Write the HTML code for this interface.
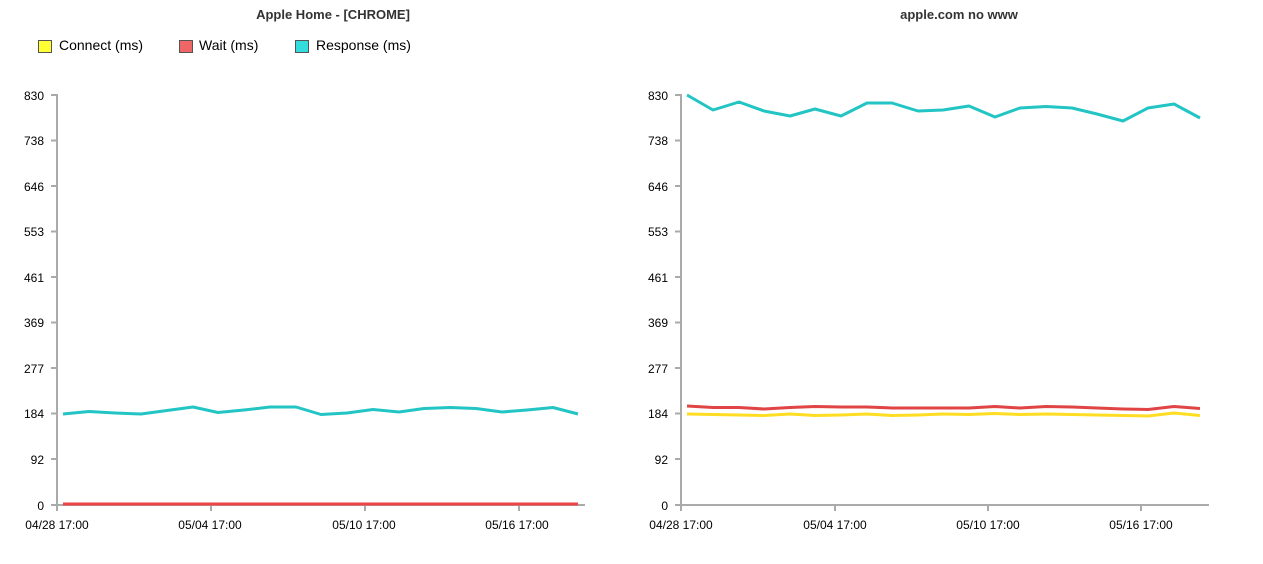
<!DOCTYPE html>
<html><head><style>
body{margin:0;background:#fff;font-family:"Liberation Sans",Arial,sans-serif;}
svg text{font-family:"Liberation Sans",Arial,sans-serif;}
</style></head><body>
<svg width="1263" height="559" xmlns="http://www.w3.org/2000/svg">
<g font-size="12" fill="#000">
<text x="333" y="19" text-anchor="middle" font-weight="bold" font-size="13" fill="#333">Apple Home - [CHROME]</text>
<text x="959" y="19" text-anchor="middle" font-weight="bold" font-size="13" fill="#333">apple.com no www</text>
<rect x="38.5" y="40.5" width="13" height="12" fill="#ffff33" stroke="#555"/>
<text x="59" y="50" font-size="14">Connect (ms)</text>
<rect x="179.5" y="40.5" width="13" height="12" fill="#ee6666" stroke="#555"/>
<text x="199" y="50" font-size="14">Wait (ms)</text>
<rect x="295.5" y="40.5" width="13" height="12" fill="#33dddd" stroke="#555"/>
<text x="316" y="50" font-size="14">Response (ms)</text>
</g>
<g font-size="12" text-anchor="end">
<text x="44" y="100">830</text><text x="44" y="145">738</text><text x="44" y="191">646</text><text x="44" y="236">553</text><text x="44" y="282">461</text><text x="44" y="327">369</text><text x="44" y="373">277</text><text x="44" y="418">184</text><text x="44" y="464">92</text><text x="44" y="510">0</text>
<text x="668" y="100">830</text><text x="668" y="145">738</text><text x="668" y="191">646</text><text x="668" y="236">553</text><text x="668" y="282">461</text><text x="668" y="327">369</text><text x="668" y="373">277</text><text x="668" y="418">184</text><text x="668" y="464">92</text><text x="668" y="510">0</text>
</g>
<g font-size="12" text-anchor="middle">
<text x="57" y="529">04/28 17:00</text><text x="210" y="529">05/04 17:00</text><text x="364" y="529">05/10 17:00</text><text x="517" y="529">05/16 17:00</text>
<text x="681" y="529">04/28 17:00</text><text x="835" y="529">05/04 17:00</text><text x="988" y="529">05/10 17:00</text><text x="1141" y="529">05/16 17:00</text>
</g>
<g stroke="#aaa" stroke-width="2" fill="none">
<path d="M51 95H57V505H585"/>
<path d="M51 140.5H57M51 186H57M51 231.5H57M51 277H57M51 322.5H57M51 368H57M51 413.5H57M51 459H57M51 505H57"/>
<path d="M57 505V511M211 505V511M365 505V511M519 505V511"/>
<path d="M675 95H681V505H1209"/>
<path d="M675 140.5H681M675 186H681M675 231.5H681M675 277H681M675 322.5H681M675 368H681M675 413.5H681M675 459H681M675 505H681"/>
<path d="M681 505V511M835 505V511M988 505V511M1141 505V511"/>
</g>
<g fill="none" stroke-width="3" stroke-linejoin="round">
<polyline stroke="#ee4444" points="63,504 578,504"/>
<polyline stroke="#22c4c4" points="63,414 89,411.5 115,413 141,414 167,410.5 193,407 218,412.5 244,410 270,407 296,407 321,414.5 347,413 373,409.5 399,412 424,408.5 450,407.5 476,408.5 502,412 527,410 553,407.5 578,414"/>
<polyline stroke="#ffdd22" points="687,414 713,414.5 739,415 764,415.5 790,414 815,415.5 841,415 867,414 892,415.5 918,415 943,414 969,414.5 995,413.5 1020,414.5 1046,414 1072,414.5 1097,415 1123,415.5 1148,416 1174,413 1200,415.5"/>
<polyline stroke="#e04444" points="687,406 713,407.5 739,407.5 764,409 790,407.5 815,406.5 841,407 867,407 892,408 918,408 943,408 969,408 995,406.5 1020,408 1046,406.5 1072,407 1097,408 1123,409 1148,409.5 1174,406.5 1200,408.5"/>
<polyline stroke="#22c4c4" points="687,95 713,110 739,102 764,111 790,116 815,109 841,116 867,103 892,103 918,111 943,110 969,106 995,117 1020,108 1046,106.5 1072,108 1097,114 1123,121 1148,108 1174,104 1200,118"/>
</g>
</svg>
</body></html>
